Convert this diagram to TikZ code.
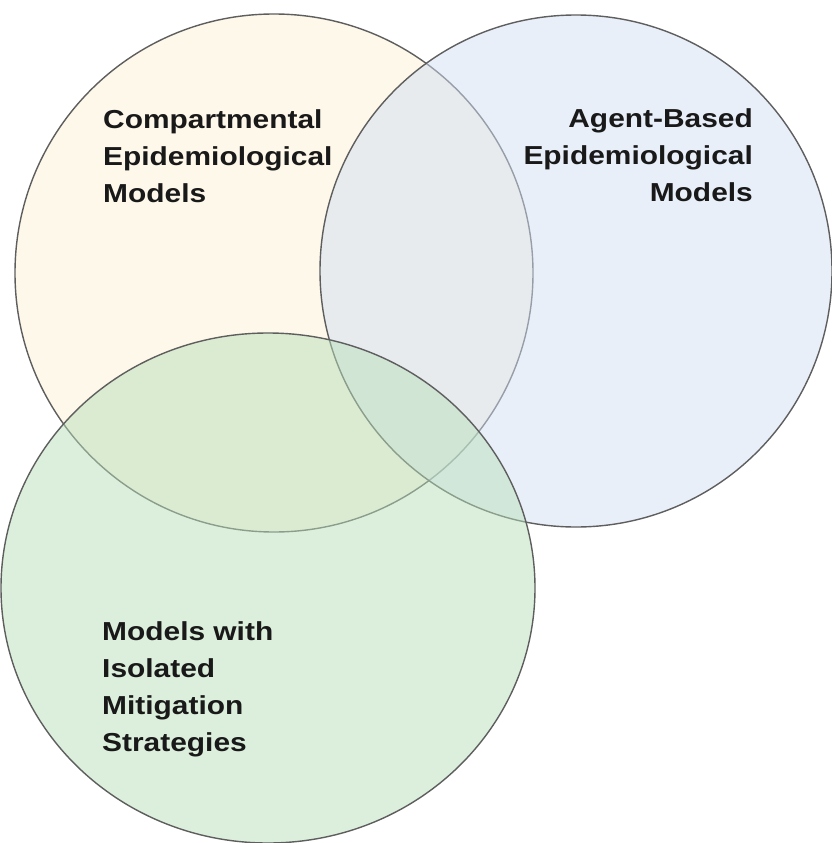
\documentclass[tikz,border=0pt]{standalone}
\usepackage{fontspec}
\newfontfamily\lblfont[FakeStretch=1.15]{Liberation Sans}
\definecolor{cyel}{HTML}{FDF1D5}
\definecolor{cblu}{HTML}{D1DFF3}
\definecolor{cgrn}{HTML}{B9DFB9}
\definecolor{cedge}{HTML}{5E5E5E}
\begin{document}
\begin{tikzpicture}[x=1pt,y=-1pt,
  venn/.style={draw=cedge,line width=1.4pt,fill opacity=0.5,draw opacity=1},
  lbl/.style={inner sep=0pt,font=\lblfont\bfseries\fontsize{26}{37}\selectfont,text=black!90}]
\useasboundingbox (0,0) rectangle (832,843);
\path[venn,fill=cyel] (274,273) circle[radius=259] coordinate (c1);
\path[venn,fill=cblu] (576,271) circle[radius=256] coordinate (c2);
\path[venn,fill=cgrn] (268,588) ellipse[x radius=267,y radius=255] coordinate (c3);
\node[lbl,anchor=base west] (t1) at (103,128) {\begin{tabular}[t]{@{}l@{}}Compartmental\\Epidemiological\\Models\end{tabular}};
\node[lbl,anchor=base east] (t2) at (753,127) {\begin{tabular}[t]{@{}r@{}}Agent-Based\\Epidemiological\\Models\end{tabular}};
\node[lbl,anchor=base west] (t3) at (102,640) {\begin{tabular}[t]{@{}l@{}}Models with\\Isolated\\Mitigation\\Strategies\end{tabular}};
\end{tikzpicture}
\end{document}
